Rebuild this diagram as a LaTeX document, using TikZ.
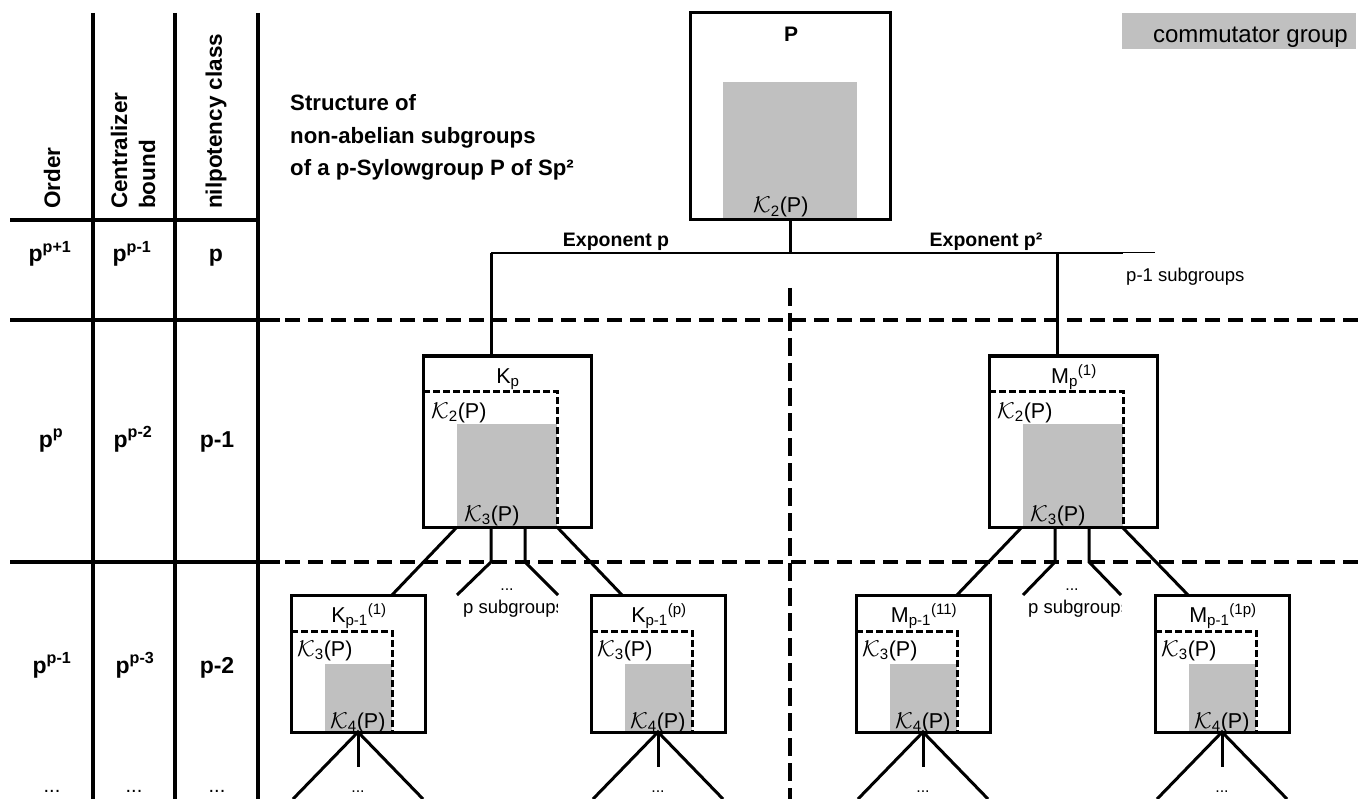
\documentclass[tikz,border=0pt]{standalone}
\usepackage{fontspec}
\setmainfont{Liberation Sans}
\usetikzlibrary{calc}
\definecolor{cgray}{HTML}{C0C0C0}
\newcommand{\Kc}[1]{\scalebox{1.1}{$\mathcal{K}$}\textsubscript{#1}(P)}
\tikzset{
  tbl/.style={line width=4.5pt},
  sepdash/.style={line width=4.5pt, dash pattern=on 15pt off 8pt},
  vdash/.style={line width=4.5pt, dash pattern=on 18pt off 7pt},
  grpbox/.style={draw, line width=3pt, inner sep=0pt, outer sep=0pt, anchor=north west},
  innerdash/.style={line width=3pt, dash pattern=on 7pt off 3pt},
  shade/.style={fill=cgray},
  conn/.style={line width=3pt},
  hline/.style={line width=2.7pt},
  tail/.style={line width=1pt},
  lbl/.style={font=\fontsize{21.5}{25}\selectfont, inner sep=0pt},
  hdr/.style={font=\fontsize{22.5}{28}\selectfont\bfseries, rotate=90, anchor=west, align=left, inner sep=0pt},
  cell/.style={font=\fontsize{23}{27}\selectfont\bfseries, anchor=base, inner sep=0pt},
  tdots/.style={font=\fontsize{20}{24}\selectfont, anchor=base, inner sep=0pt},
  sdots/.style={font=\fontsize{16}{18}\selectfont, anchor=base, inner sep=0pt},
  small/.style={font=\fontsize{18.5}{22}\selectfont, inner sep=0pt},
  ttl/.style={font=\fontsize{22.2}{26}\selectfont\bfseries, anchor=base west, inner sep=0pt},
  expo/.style={font=\fontsize{19.5}{23}\selectfont\bfseries, anchor=base, inner sep=0pt},
}
\newcommand{\midgroup}[3]{%
  \fill[shade] (#2+34,424) rectangle (#2+134,527);
  \draw[innerdash] (#2,391) -- (#2+134,391) -- (#2+134,527);
  \node[grpbox, minimum width=168pt, minimum height=171pt] (#1) at (#2,356) {};
  \node[lbl, anchor=base] (#1-name) at (#2+85,383) {#3};
  \node[lbl, anchor=base west] (#1-k2) at (#2+8,418) {\Kc{2}};
  \node[lbl, anchor=base west] (#1-k3) at (#2+41,521) {\Kc{3}};
}
\newcommand{\lowgroup}[3]{%
  \fill[shade] (#2+34,664) rectangle (#2+101,732);
  \draw[innerdash] (#2,631) -- (#2+101,631) -- (#2+101,732);
  \node[grpbox, minimum width=134pt, minimum height=137pt] (#1) at (#2,595) {};
  \node[lbl, anchor=base] (#1-name) at (#2+68,622) {#3};
  \node[lbl, anchor=base west] (#1-k3) at (#2+6,656) {\Kc{3}};
  \node[lbl, anchor=base west] (#1-k4) at (#2+39,728) {\Kc{4}};
  \coordinate (#1-bl) at ($(#1.south)+(-65,67)$);
  \coordinate (#1-br) at ($(#1.south)+(65,67)$);
  \coordinate (#1-bm) at ($(#1.south)+(0,35)$);
  \draw[conn] (#1-bl) -- (#1.south) -- (#1-br);
  \draw[conn] (#1.south) -- (#1-bm);
  \node[sdots] (#1-dots) at ($(#1.south)+(0,60)$) {...};
}
\begin{document}
\begin{tikzpicture}[x=1pt,y=-1pt]
\useasboundingbox (0,0) rectangle (1362,799);

% ---- table ----
\draw[tbl] (93,13) -- (93,799);
\draw[tbl] (175,13) -- (175,799);
\draw[tbl] (258,13) -- (258,799);
\draw[tbl] (10,220) -- (258,220);
\draw[tbl] (10,320) -- (280,320);
\draw[sepdash] (285,320) -- (1362,320);
\draw[tbl] (10,562) -- (280,562);
\draw[sepdash] (285,562) -- (1362,562);
\draw[vdash] (790,288) -- (790,799);

\node[hdr] (hOrder) at (52,209) {Order};
\node[hdr] (hCent) at (133,209) {Centralizer\\bound};
\node[hdr] (hNil) at (216,209) {nilpotency class};

\node[cell] (r1a) at (50,262) {p\textsuperscript{p+1}};
\node[cell] (r1b) at (132,262) {p\textsuperscript{p-1}};
\node[cell] (r1c) at (216,262) {p};
\node[cell] (r2a) at (51,447) {p\textsuperscript{p}};
\node[cell] (r2b) at (133,447) {p\textsuperscript{p-2}};
\node[cell] (r2c) at (217,447) {p-1};
\node[cell] (r3a) at (52,673) {p\textsuperscript{p-1}};
\node[cell] (r3b) at (135,673) {p\textsuperscript{p-3}};
\node[cell] (r3c) at (217,673) {p-2};
\node[tdots] (r4a) at (52,792) {...};
\node[tdots] (r4b) at (134,792) {...};
\node[tdots] (r4c) at (217,792) {...};

% ---- title and legend ----
\node[ttl] (t1) at (290,111) {Structure of};
\node[ttl] (t2) at (290,143.5) {non-abelian subgroups};
\node[ttl] (t3) at (290,176) {of a p-Sylowgroup P of Sp²};
\fill[shade] (1122,13) rectangle (1356,49);
\node[lbl, font=\fontsize{24}{28}\selectfont, anchor=base east] (legend) at (1348,43) {commutator group};

% ---- top group P ----
\fill[shade] (723,82) rectangle (857,218.5);
\node[grpbox, minimum width=200pt, minimum height=207pt] (P) at (690,13) {};
\node[lbl, font=\fontsize{21}{25}\selectfont\bfseries, anchor=base] (Pname) at (791,42) {P};
\node[lbl, anchor=base west] (Pk2) at (753,213) {\Kc{2}};

% ---- second level ----
\midgroup{Kp}{423}{K\textsubscript{p}}
\midgroup{Mp}{989}{M\textsubscript{p}\textsuperscript{(1)}}

\coordinate (hl) at ($(Kp.north west)+(68,-103)$);
\coordinate (hm) at ($(Mp.north west)+(68,-103)$);
\coordinate (hr) at ($(hl)+(632,0)$);
\coordinate (ht) at ($(hr)+(32,0)$);
\draw[conn] (P.south) -- (P.south |- hl);
\draw[hline] (hl) -- (hr);
\draw[tail] (hr) -- (ht);
\draw[conn] (hl) -- ($(Kp.north west)+(68,0)$);
\draw[conn] (hm) -- ($(Mp.north west)+(68,0)$);

\node[expo] (ep) at (616,247) {Exponent p};
\node[expo] (ep2) at (986,247) {Exponent p²};
\node[small, anchor=base west] (pm1) at (1126,282) {p-1 subgroups};

% ---- third level ----
\lowgroup{K1}{291}{K\textsubscript{p-1}\textsuperscript{(1)}}
\lowgroup{K2}{591}{K\textsubscript{p-1}\textsuperscript{(p)}}
\lowgroup{M1}{856}{M\textsubscript{p-1}\textsuperscript{(11)}}
\lowgroup{M2}{1155}{M\textsubscript{p-1}\textsuperscript{(1p)}}

% connectors Kp
\draw[conn] ($(Kp.south west)+(34,0)$) -- ($(K1.north west)+(101,0)$);
\draw[conn] ($(Kp.south west)+(68,0)$) -- ++(0,35) coordinate (kpa) -- ++(-34,33) coordinate (kpa2);
\draw[conn] ($(Kp.south west)+(102,0)$) -- ++(0,35) coordinate (kpb) -- ++(33,33) coordinate (kpb2);
\draw[conn] ($(Kp.south west)+(134,0)$) -- ($(K2.north west)+(31,0)$);
\node[sdots] (kpdots) at (507,590) {...};
\begin{scope}
  \clip (460,595) rectangle (557,625);
  \node[small, anchor=base west] (kpsub) at (463,613) {p subgroups};
\end{scope}

% connectors Mp
\draw[conn] ($(Mp.south west)+(33,0)$) -- ($(M1.north west)+(101,0)$);
\draw[conn] ($(Mp.south west)+(66,0)$) -- ++(0,35) coordinate (mpa) -- ++(-32,33) coordinate (mpa2);
\draw[conn] ($(Mp.south west)+(100,0)$) -- ++(0,35) coordinate (mpb) -- ++(32,33) coordinate (mpb2);
\draw[conn] ($(Mp.south west)+(133,0)$) -- ($(M2.north west)+(33,0)$);
\node[sdots] (mpdots) at (1072,590) {...};
\begin{scope}
  \clip (1025,595) rectangle (1121,625);
  \node[small, anchor=base west] (mpsub) at (1028,613) {p subgroups};
\end{scope}
\end{tikzpicture}
\end{document}
